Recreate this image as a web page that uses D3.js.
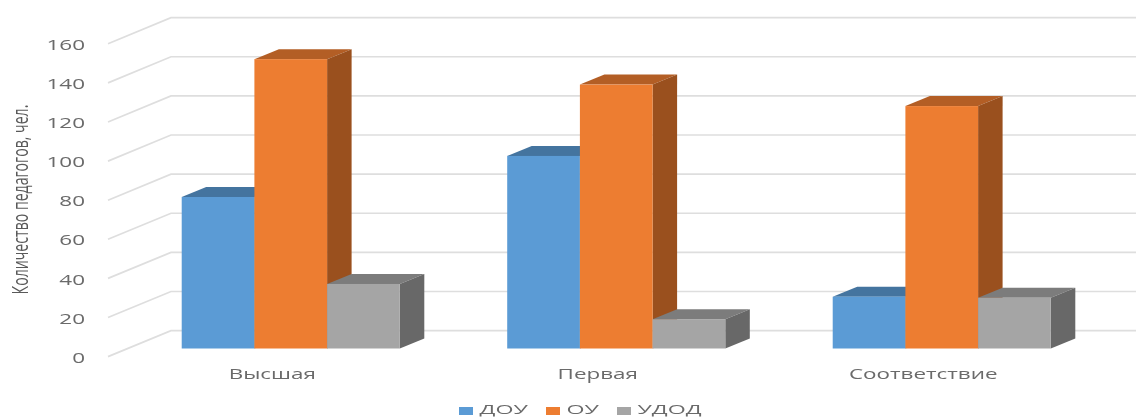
<!DOCTYPE html>
<html>
<head>
<meta charset="utf-8">
<script src="https://cdn.jsdelivr.net/npm/d3@7"></script>
<style>
  html, body { margin: 0; padding: 0; background: #fff; }
  svg { display: block; filter: blur(0.55px); font-family: "Open Sans", sans-serif; }
</style>
</head>
<body>
<div id="chart"></div>
<script>
const categories = ["Высшая", "Первая", "Соответствие"];
const seriesNames = ["ДОУ", "ОУ", "УДОД"];
const dou = [77.5, 98.5, 26.5];
const ou = [148, 135, 124];
const udod = [33, 15, 26];
const yTicks = [0, 20, 40, 60, 80, 100, 120, 140, 160];
const yTitle = "Количество педагогов, чел.";

const colors = ["#5b9bd5", "#ed7d31", "#a5a5a5"];
const topColors = ["#44749f", "#b35e25", "#7c7c7c"];
const sideColors = ["#3f6d96", "#9a501e", "#686868"];

const width = 1136, height = 418;
// depth of the 3d box
const depthX = 24.5, depthY = 10;

const svg = d3.select("#chart").append("svg")
  .attr("width", width)
  .attr("height", height);

// same unit height on all three planes, only the baseline moves
const yBar = d3.scaleLinear().domain([0, 160]).range([348.5, 35.7]);
const yBack = d3.scaleLinear().domain([0, 160]).range([330.6, 17.6]);
const yFront = d3.scaleLinear().domain([0, 160]).range([356.6, 43.8]);

const x0 = d3.scaleBand().domain(categories).range([128, 1104.5]).paddingInner(0.33).paddingOuter(0.165);
const x1 = d3.scaleBand().domain(seriesNames).range([0, x0.bandwidth()]);

// gridlines: floor diagonal + back wall
const grid = svg.append("g").attr("fill", "none").attr("stroke", "#dedede").attr("stroke-width", 1.7);
yTicks.forEach(t => {
  grid.append("path").attr("d", d3.line()([
    [108, yFront(t)],
    [171, yBack(t)],
    [1136, yBack(t)]
  ]));
});

// Y labels
const yAxis = svg.append("g")
  .attr("transform", "translate(85,1)")
  .call(d3.axisLeft(yFront).tickValues(yTicks).tickSize(0).tickPadding(0));
yAxis.select(".domain").remove();
yAxis.selectAll("text")
  .style("font-family", "'Open Sans', sans-serif")
  .style("font-size", "14.5px")
  .attr("fill", "#6a6a6a");
stretch(yAxis.selectAll("text"), 1.55);

// Y title, squeezed along its length like the reference
const title = svg.append("text")
  .attr("text-anchor", "middle")
  .attr("fill", "#595959")
  .style("font-size", "21px")
  .text(yTitle);
title.attr("transform", "translate(28,199.5) rotate(-90) scale(" + (190 / title.node().getComputedTextLength()) + ",1)");

// bars
const seriesValues = [dou, ou, udod];
categories.forEach((cat, c) => {
  seriesNames.forEach((name, s) => {
    const v = seriesValues[s][c];
    const l = x0(cat) + x1(name), r = l + x1.bandwidth();
    const t = yBar(v), b = yBar(0);
    const g = svg.append("g");
    g.append("path").attr("fill", topColors[s]).attr("d", d3.line()([
      [l, t], [l + depthX, t - depthY], [r + depthX, t - depthY], [r, t]
    ]) + "Z");
    g.append("path").attr("fill", sideColors[s]).attr("d", d3.line()([
      [r, t], [r + depthX, t - depthY], [r + depthX, b - depthY], [r, b]
    ]) + "Z");
    g.append("rect")
      .attr("x", l).attr("y", t)
      .attr("width", x1.bandwidth()).attr("height", b - t)
      .attr("fill", colors[s]);
  });
});

// category labels sit left of the group, on the front floor edge
const xAxis = svg.append("g")
  .attr("transform", "translate(-18.5,369)")
  .call(d3.axisBottom(x0).tickSize(0).tickPadding(0));
xAxis.select(".domain").remove();
xAxis.selectAll("text")
  .style("font-family", "'Open Sans', sans-serif")
  .style("font-size", "14px")
  .attr("fill", "#6a6a6a");
stretch(xAxis.selectAll("text"), 1.6);

// legend
const legendX = [459, 546, 617];
const legend = svg.append("g");
seriesNames.forEach((name, i) => {
  legend.append("rect")
    .attr("x", legendX[i]).attr("y", 407)
    .attr("width", 14).attr("height", 8)
    .attr("fill", colors[i]);
  const t = legend.append("text")
    .attr("x", legendX[i] + 20.5).attr("y", 414)
    .attr("fill", "#6a6a6a")
    .style("font-size", "13.5px")
    .text(name);
  stretch(t, 1.72);
});

// the source picture is stretched sideways, so widen the glyphs too
function stretch(sel, k) {
  sel.each(function () {
    const len = this.getComputedTextLength();
    d3.select(this).attr("textLength", len * k).attr("lengthAdjust", "spacingAndGlyphs");
  });
}
</script>
</body>
</html>
